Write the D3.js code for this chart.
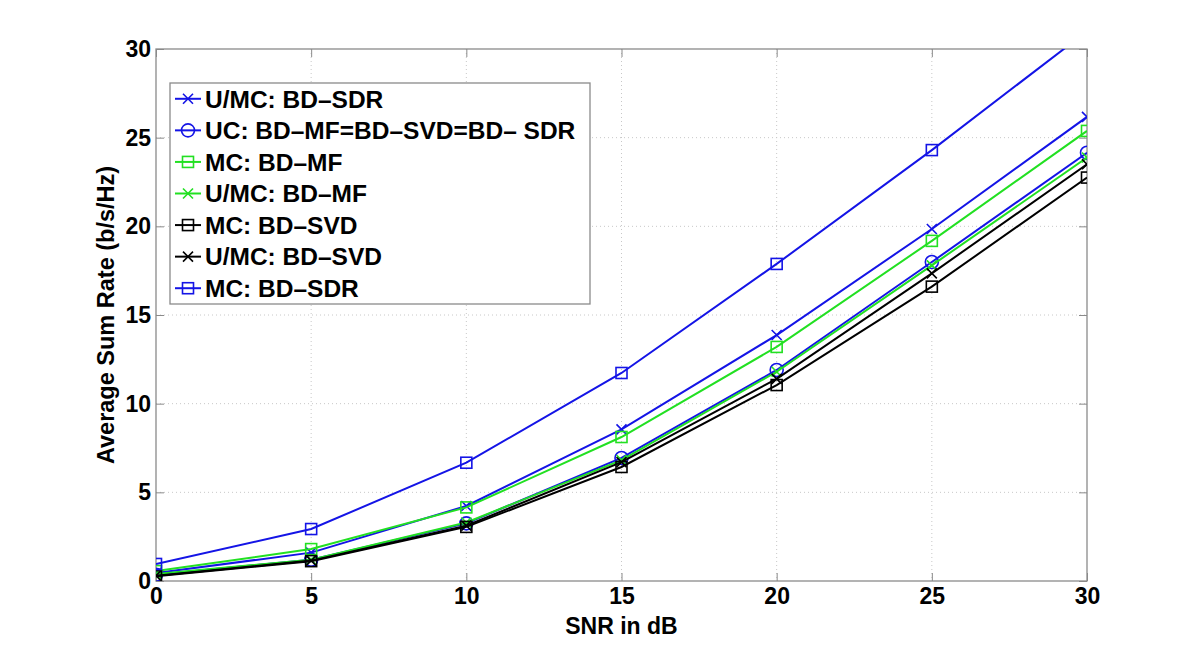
<!DOCTYPE html>
<html><head><meta charset="utf-8">
<script src="https://cdn.jsdelivr.net/npm/d3@7"></script>
<style>body{margin:0;background:#fff}svg{display:block}</style>
</head><body>
<svg id="chart" width="1200" height="654"></svg>
<script>
// ---- data ----
const snr = [0, 5, 10, 15, 20, 25, 30];
const xTicks = [0, 5, 10, 15, 20, 25, 30];
const yTicks = [0, 5, 10, 15, 20, 25, 30];
const labels = ["U/MC: BD\u2013SDR", "UC: BD\u2013MF=BD\u2013SVD=BD\u2013 SDR", "MC: BD\u2013MF", "U/MC: BD\u2013MF", "MC: BD\u2013SVD", "U/MC: BD\u2013SVD", "MC: BD\u2013SDR"];
const umcSDR = [0.45, 1.6, 4.23, 8.55, 13.87, 19.85, 26.17];
const ucAll  = [0.35, 1.2, 3.25, 6.94, 11.9, 17.99, 24.15];
const mcMF   = [0.56, 1.8, 4.15, 8.12, 13.2, 19.18, 25.38];
const umcMF  = [0.4, 1.2, 3.3, 6.82, 11.8, 17.8, 23.88];
const mcSVD  = [0.27, 1.12, 3.05, 6.43, 11.05, 16.6, 22.75];
const umcSVD = [0.3, 1.15, 3.12, 6.7, 11.4, 17.35, 23.5];
const mcSDR  = [0.96, 2.93, 6.67, 11.73, 17.88, 24.3, 31.0];
const seriesValues = [umcSDR, ucAll, mcMF, umcMF, mcSVD, umcSVD, mcSDR];
const seriesColors = ["#1414e6", "#1414e6", "#22e022", "#22e022", "#000000", "#000000", "#1414e6"];
const seriesMarkers = ["x", "o", "s", "x", "s", "x", "s"];
const xTitle = "SNR in dB";
const yTitle = "Average Sum Rate (b/s/Hz)";

// ---- layout ----
const L = 156, R = 1087, T = 49, B = 581;
const FONT = "'Liberation Sans', Arial, Helvetica, sans-serif";
const svg = d3.select("#chart");
const x = d3.scaleLinear().domain([0, 30]).range([L, R]);
const y = d3.scaleLinear().domain([0, 30]).range([B, T]);

// grid
const grid = svg.append("g");
grid.selectAll(".gx").data(xTicks.slice(1, -1)).enter().append("line")
  .attr("x1", d => x(d)).attr("x2", d => x(d)).attr("y1", T).attr("y2", B)
  .attr("stroke", "#c8c8c8").attr("stroke-width", 1).attr("stroke-dasharray", "1,3");
grid.selectAll(".gy").data(yTicks.slice(1, -1)).enter().append("line")
  .attr("y1", d => y(d)).attr("y2", d => y(d)).attr("x1", L).attr("x2", R)
  .attr("stroke", "#c8c8c8").attr("stroke-width", 1).attr("stroke-dasharray", "1,3");

// box
svg.append("rect").attr("x", L).attr("y", T).attr("width", R - L).attr("height", B - T)
  .attr("fill", "none").attr("stroke", "#8a8a8a").attr("stroke-width", 1.3);

// axes
const xAxis = svg.append("g").attr("transform", `translate(0,${B})`)
  .call(d3.axisBottom(x).tickValues(xTicks).tickSize(-8).tickPadding(7).tickFormat(d3.format("d")));
const yAxis = svg.append("g").attr("transform", `translate(${L},0)`)
  .call(d3.axisLeft(y).tickValues(yTicks).tickSize(-8).tickPadding(5).tickFormat(d3.format("d")));
const xAxisTop = svg.append("g").attr("transform", `translate(0,${T})`)
  .call(d3.axisTop(x).tickValues(xTicks).tickSize(-8).tickFormat(""));
const yAxisRight = svg.append("g").attr("transform", `translate(${R},0)`)
  .call(d3.axisRight(y).tickValues(yTicks).tickSize(-8).tickFormat(""));
[xAxis, yAxis, xAxisTop, yAxisRight].forEach(a => {
  a.select(".domain").remove();
  a.selectAll(".tick line").attr("stroke", "#8a8a8a");
  a.selectAll("text").attr("font-family", FONT).attr("font-weight", "bold").attr("font-size", 23).attr("fill", "#000");
});

// clip
svg.append("clipPath").attr("id", "clip").append("rect")
  .attr("x", L).attr("y", T).attr("width", R - L).attr("height", B - T);

const line = d3.line().x((d, i) => x(snr[i])).y(d => y(d));

function drawMarker(g, type, cx, cy, color) {
  if (type === "s") {
    g.append("rect").attr("x", cx - 5.5).attr("y", cy - 5.5).attr("width", 11).attr("height", 11)
      .attr("fill", "none").attr("stroke", color).attr("stroke-width", 1.6);
  } else if (type === "o") {
    g.append("circle").attr("cx", cx).attr("cy", cy).attr("r", 6.5)
      .attr("fill", "none").attr("stroke", color).attr("stroke-width", 1.6);
  } else {
    const s = 5;
    g.append("path").attr("d", `M${cx - s},${cy - s}L${cx + s},${cy + s}M${cx - s},${cy + s}L${cx + s},${cy - s}`)
      .attr("stroke", color).attr("stroke-width", 1.6).attr("fill", "none");
  }
}

const plot = svg.append("g").attr("clip-path", "url(#clip)");
seriesValues.forEach((vals, k) => {
  const g = plot.append("g");
  g.append("path").datum(vals).attr("d", line).attr("fill", "none")
    .attr("stroke", seriesColors[k]).attr("stroke-width", 2);
  vals.forEach((v, i) => { if (v <= 30) drawMarker(g, seriesMarkers[k], x(snr[i]), y(v), seriesColors[k]); });
});

// legend
const lx = 170, ly = 83, lw = 420, lh = 221, rowH = lh / labels.length;
const leg = svg.append("g");
leg.append("rect").attr("x", lx).attr("y", ly).attr("width", lw).attr("height", lh)
  .attr("fill", "#fff").attr("stroke", "#8a8a8a").attr("stroke-width", 1.3);
labels.forEach((lab, k) => {
  const cy = ly + rowH * (k + 0.5);
  leg.append("line").attr("x1", 175).attr("x2", 201).attr("y1", cy).attr("y2", cy)
    .attr("stroke", seriesColors[k]).attr("stroke-width", 2);
  drawMarker(leg, seriesMarkers[k], 188, cy, seriesColors[k]);
  leg.append("text").attr("x", 205).attr("y", cy).attr("dy", "0.36em")
    .attr("font-family", FONT).attr("font-weight", "bold").attr("font-size", 24.5).attr("fill", "#000").text(lab);
});

// titles
svg.append("text").attr("x", (L + R) / 2).attr("y", 634).attr("text-anchor", "middle")
  .attr("font-family", FONT).attr("font-weight", "bold").attr("font-size", 23).text(xTitle);
svg.append("text").attr("transform", `translate(114,${(T + B) / 2}) rotate(-90)`).attr("text-anchor", "middle")
  .attr("font-family", FONT).attr("font-weight", "bold").attr("font-size", 23.5).text(yTitle);
</script>
</body></html>
